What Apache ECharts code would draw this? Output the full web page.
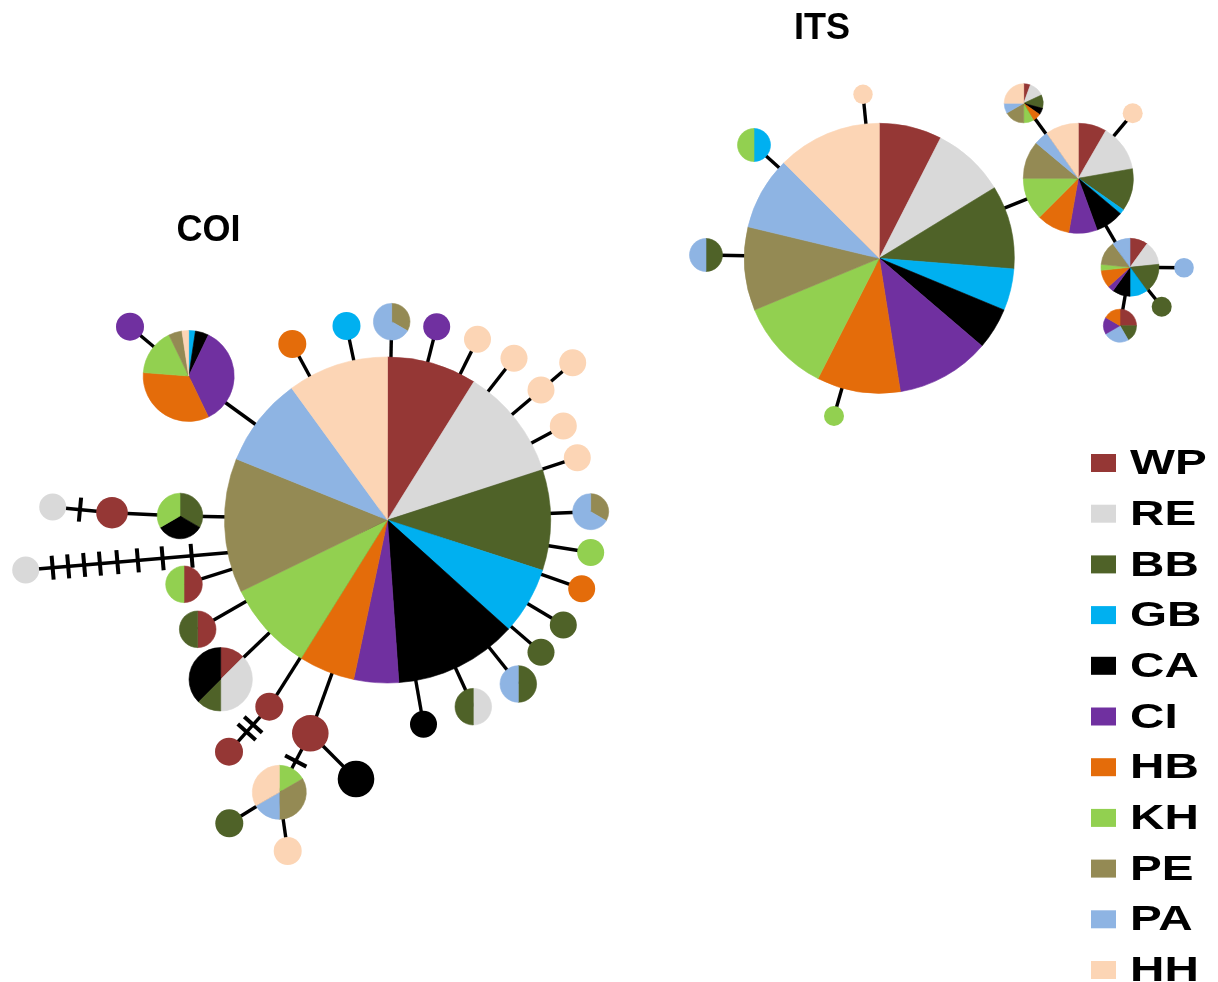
<!DOCTYPE html>
<html>
<head>
<meta charset="utf-8">
<title>COI / ITS haplotype networks</title>
<script src="https://cdn.jsdelivr.net/npm/echarts@6/dist/echarts.min.js"></script>
<style>
  html, body { margin: 0; padding: 0; background: #ffffff; }
  #chart { width: 1218px; height: 982px; }
</style>
</head>
<body>
<div id="chart"></div>
<script>
// ---- populations (legend order) ----
const populations = ['WP', 'RE', 'BB', 'GB', 'CA', 'CI', 'HB', 'KH', 'PE', 'PA', 'HH'];

// ---- COI haplotypes: id, population frequencies in slice order ----
const coiHaplotypes = [
  ['C0', [['WP', 8], ['RE', 10], ['BB', 9], ['GB', 6], ['CA', 11], ['CI', 4], ['HB', 5], ['KH', 8], ['PE', 12], ['PA', 8], ['HH', 9]]],
  ['C1', [['GB', 1], ['CA', 2], ['CI', 15], ['HB', 14], ['KH', 7], ['PE', 2], ['HH', 1]]],
  ['C2', [['CI', 1]]],
  ['C3', [['HB', 1]]],
  ['C4', [['GB', 1]]],
  ['C5', [['PE', 1], ['PA', 2]]],
  ['C6', [['CI', 1]]],
  ['C7', [['HH', 1]]],
  ['C8', [['HH', 1]]],
  ['C9', [['HH', 1]]],
  ['C10', [['HH', 1]]],
  ['C11', [['HH', 1]]],
  ['C12', [['HH', 1]]],
  ['C13', [['PE', 1], ['PA', 2]]],
  ['C14', [['KH', 1]]],
  ['C15', [['HB', 1]]],
  ['C16', [['BB', 1]]],
  ['C17', [['BB', 1]]],
  ['C18', [['BB', 1], ['PA', 1]]],
  ['C19', [['RE', 1], ['BB', 1]]],
  ['C20', [['CA', 1]]],
  ['C21', [['WP', 2]]],
  ['C22', [['CA', 2]]],
  ['C23', [['KH', 1], ['PE', 2], ['PA', 1], ['HH', 2]]],
  ['C24', [['BB', 1]]],
  ['C25', [['HH', 1]]],
  ['C26', [['WP', 1]]],
  ['C27', [['WP', 1]]],
  ['C28', [['WP', 1], ['RE', 3], ['BB', 1], ['CA', 3]]],
  ['C29', [['WP', 1], ['BB', 1]]],
  ['C30', [['WP', 1], ['KH', 1]]],
  ['C31', [['RE', 1]]],
  ['C32', [['BB', 1], ['CA', 1], ['KH', 1]]],
  ['C33', [['WP', 1]]],
  ['C34', [['RE', 1]]]
];

// ---- ITS haplotypes ----
const itsHaplotypes = [
  ['I0', [['WP', 6], ['RE', 7], ['BB', 8], ['GB', 4], ['CA', 4], ['CI', 9], ['HB', 8], ['KH', 9], ['PE', 8], ['PA', 7], ['HH', 10]]],
  ['I1', [['HH', 1]]],
  ['I2', [['GB', 1], ['KH', 1]]],
  ['I3', [['BB', 1], ['PA', 1]]],
  ['I4', [['KH', 1]]],
  ['I5', [['WP', 6], ['RE', 10], ['BB', 9], ['GB', 1], ['CA', 6], ['CI', 6], ['HB', 7], ['KH', 9], ['PE', 8], ['PA', 3], ['HH', 7]]],
  ['I6', [['WP', 4], ['RE', 9], ['BB', 8], ['CA', 4], ['HB', 5], ['KH', 6], ['PE', 12], ['PA', 6], ['HH', 18]]],
  ['I7', [['HH', 1]]],
  ['I8', [['WP', 3], ['RE', 4], ['BB', 5], ['GB', 3], ['CA', 3], ['CI', 1], ['HB', 3], ['KH', 1], ['PE', 4], ['PA', 3]]],
  ['I9', [['PA', 1]]],
  ['I10', [['BB', 1]]],
  ['I11', [['WP', 3], ['BB', 2], ['PA', 3], ['CI', 2], ['HB', 2]]]
];

// ---- links: source, target, mutation steps ----
const coiLinks = [
  ['C0', 'C1', 0], ['C1', 'C2', 0], ['C0', 'C3', 0], ['C0', 'C4', 0], ['C0', 'C5', 0],
  ['C0', 'C6', 0], ['C0', 'C7', 0], ['C0', 'C8', 0], ['C0', 'C9', 0], ['C9', 'C10', 0],
  ['C0', 'C11', 0], ['C0', 'C12', 0], ['C0', 'C13', 0], ['C0', 'C14', 0], ['C0', 'C15', 0],
  ['C0', 'C16', 0], ['C0', 'C17', 0], ['C0', 'C18', 0], ['C0', 'C19', 0], ['C0', 'C20', 0],
  ['C0', 'C21', 0], ['C21', 'C22', 0], ['C21', 'C23', 1], ['C23', 'C24', 0], ['C23', 'C25', 0],
  ['C0', 'C26', 0], ['C26', 'C27', 2], ['C0', 'C28', 0], ['C0', 'C29', 0], ['C0', 'C30', 0],
  ['C31', 'C0', 8], ['C0', 'C32', 0], ['C32', 'C33', 0], ['C33', 'C34', 1]
];
const itsLinks = [
  ['I0', 'I1', 0], ['I0', 'I2', 0], ['I0', 'I3', 0], ['I0', 'I4', 0], ['I0', 'I5', 0],
  ['I5', 'I6', 0], ['I5', 'I7', 0], ['I5', 'I8', 0], ['I8', 'I9', 0], ['I8', 'I10', 0], ['I8', 'I11', 0]
];

// ---- network layout (x, y, node radius in layout units) ----
const nodeLayout = {
  C0: [387.5, 520, 163], C1: [188.7, 376, 45.5], C2: [130, 326.7, 14], C3: [292.3, 344, 14],
  C4: [346.5, 326, 14], C5: [391.7, 321.7, 18.3], C6: [436.7, 326.7, 13.5], C7: [477.5, 339.3, 13.5],
  C8: [514, 358.3, 13.5], C9: [541, 390, 13.5], C10: [572.7, 362.7, 13.5], C11: [563.3, 426, 13.5],
  C12: [577.3, 457.7, 13.5], C13: [590.7, 511.7, 18], C14: [590.7, 552.5, 13.5], C15: [581.7, 588.7, 13.5],
  C16: [563.3, 625, 13.5], C17: [541, 652.3, 13.5], C18: [518.3, 684, 18.3], C19: [473.3, 706.7, 18.3],
  C20: [423.5, 724.3, 13.5], C21: [310.3, 733.3, 18.3], C22: [356, 779, 18.3], C23: [279.3, 792.3, 27],
  C24: [229.3, 823.3, 14], C25: [287.7, 851, 14], C26: [269.3, 706.7, 14], C27: [229, 751.7, 14],
  C28: [220.7, 679.3, 31.7], C29: [197.7, 629.3, 18.3], C30: [184, 584.3, 18.3], C31: [25.7, 570, 13.5],
  C32: [180, 516, 22.8], C33: [112, 512.7, 15.8], C34: [52.7, 507, 13.5],
  I0: [879.3, 258.3, 135], I1: [863, 94.3, 9.7], I2: [754, 145, 16.5], I3: [706, 255, 16.5],
  I4: [834, 416, 10], I5: [1078.3, 178.3, 55], I6: [1023.7, 103.3, 19.5], I7: [1132.7, 113.3, 10],
  I8: [1130, 267.3, 29], I9: [1184, 267.7, 9.8], I10: [1161.7, 306.7, 10], I11: [1120, 325.7, 16.5]
};
// a link end that meets the hub away from its centre
const linkAnchors = { 'C31-C0': [236, 552] };
// positions of mutation hatch marks along a link (fraction from source to target)
const hatchLayout = {
  'C21-C23': [0.47],
  'C26-C27': [0.40, 0.56],
  'C31-C0': [0.128, 0.202, 0.278, 0.353, 0.436, 0.533, 0.651, 0.789],
  'C33-C34': [0.54]
};

// ---- styling ----
const popColors = {
  WP: '#953735', RE: '#D9D9D9', BB: '#4F6228', GB: '#00B0F0', CA: '#000000', CI: '#7030A0',
  HB: '#E46C0A', KH: '#92D050', PE: '#948A54', PA: '#8EB4E3', HH: '#FCD5B5'
};
const EDGE_WIDTH = 3.4;
const HATCH_LEN = 24;
const HATCH_WIDTH = 4;

// ---- assemble series data ----
const haplotypes = coiHaplotypes.concat(itsHaplotypes);
const nodeData = haplotypes.map(([id], i) => {
  const p = nodeLayout[id];
  return [p[0], p[1], p[2], i];
});

const allLinks = coiLinks.concat(itsLinks);
const linkKeys = allLinks.map(([s, t]) => s + '-' + t);
const linkData = allLinks.map(([s, t], i) => {
  const key = linkKeys[i];
  const a = nodeLayout[s];
  const b = linkAnchors[key] || nodeLayout[t];
  return [a[0], a[1], b[0], b[1], i];
});

function renderLink(params, api) {
  const i = api.value(4);
  const p1 = api.coord([api.value(0), api.value(1)]);
  const p2 = api.coord([api.value(2), api.value(3)]);
  const dx = p2[0] - p1[0], dy = p2[1] - p1[1];
  const len = Math.hypot(dx, dy) || 1;
  const nx = -dy / len, ny = dx / len;
  const children = [{
    type: 'line',
    shape: { x1: p1[0], y1: p1[1], x2: p2[0], y2: p2[1] },
    style: { stroke: '#000000', lineWidth: EDGE_WIDTH }
  }];
  const steps = allLinks[i][2];
  let marks = hatchLayout[linkKeys[i]];
  if (!marks && steps > 0) {
    marks = [];
    for (let k = 1; k <= steps; k++) marks.push(k / (steps + 1));
  }
  (marks || []).forEach(t => {
    const mx = p1[0] + dx * t, my = p1[1] + dy * t;
    const h = HATCH_LEN / 2;
    children.push({
      type: 'line',
      shape: { x1: mx - nx * h, y1: my - ny * h, x2: mx + nx * h, y2: my + ny * h },
      style: { stroke: '#000000', lineWidth: HATCH_WIDTH }
    });
  });
  return { type: 'group', children };
}

function renderPie(params, api) {
  const counts = haplotypes[api.value(3)][1];
  const c = api.coord([api.value(0), api.value(1)]);
  const r = api.size([api.value(2), 0])[0];
  const total = counts.reduce((s, d) => s + d[1], 0);
  if (counts.length === 1) {
    const col = popColors[counts[0][0]];
    return {
      type: 'circle',
      shape: { cx: c[0], cy: c[1], r: r },
      style: { fill: col }
    };
  }
  let a = -Math.PI / 2;
  const children = counts.map(([pop, n]) => {
    const sweep = n / total * Math.PI * 2;
    const el = {
      type: 'sector',
      shape: { cx: c[0], cy: c[1], r: r, r0: 0, startAngle: a, endAngle: a + sweep, clockwise: true },
      style: { fill: popColors[pop], stroke: popColors[pop], lineWidth: 0.6 }
    };
    a += sweep;
    return el;
  });
  return { type: 'group', children };
}

// ---- titles and legend ----
const FONT = '"Liberation Sans", Arial, sans-serif';
const graphics = [
  {
    type: 'text', x: 208.5, y: 231, z: 10,
    style: { text: 'COI', fontSize: 36, fontWeight: 'bold', fontFamily: FONT, fill: '#000',
             align: 'center', verticalAlign: 'middle', textAlign: 'center', textVerticalAlign: 'middle' }
  },
  {
    type: 'text', x: 822, y: 29, z: 10,
    style: { text: 'ITS', fontSize: 36, fontWeight: 'bold', fontFamily: FONT, fill: '#000',
             align: 'center', verticalAlign: 'middle', textAlign: 'center', textVerticalAlign: 'middle' }
  }
];
const LEGEND_TOP = 463, LEGEND_STEP = 50.7;
populations.forEach((pop, i) => {
  const y = LEGEND_TOP + LEGEND_STEP * i;
  graphics.push({
    type: 'rect', z: 10,
    shape: { x: 1091, y: y - 9, width: 25, height: 18 },
    style: { fill: popColors[pop] }
  });
  graphics.push({
    type: 'text', x: 1130, y: y + 1.5, scaleX: 1.36, z: 10,
    style: { text: pop, fontSize: 35, fontWeight: 'bold', fontFamily: FONT, fill: '#000',
             align: 'left', verticalAlign: 'middle', textAlign: 'left', textVerticalAlign: 'middle' }
  });
});

const chart = echarts.init(document.getElementById('chart'), null, { renderer: 'canvas' });
chart.setOption({
  animation: false,
  backgroundColor: '#ffffff',
  grid: { left: 0, right: 0, top: 0, bottom: 0, containLabel: false },
  xAxis: { type: 'value', min: 0, max: 1218, show: false },
  yAxis: { type: 'value', min: 0, max: 982, inverse: true, show: false },
  graphic: graphics,
  series: [
    {
      name: 'links', type: 'custom', coordinateSystem: 'cartesian2d',
      renderItem: renderLink, data: linkData,
      encode: { x: [0, 2], y: [1, 3] }, clip: false, silent: true, z: 1
    },
    {
      name: 'haplotypes', type: 'custom', coordinateSystem: 'cartesian2d',
      renderItem: renderPie, data: nodeData,
      encode: { x: 0, y: 1 }, clip: false, silent: true, z: 2
    }
  ]
});
</script>
</body>
</html>
